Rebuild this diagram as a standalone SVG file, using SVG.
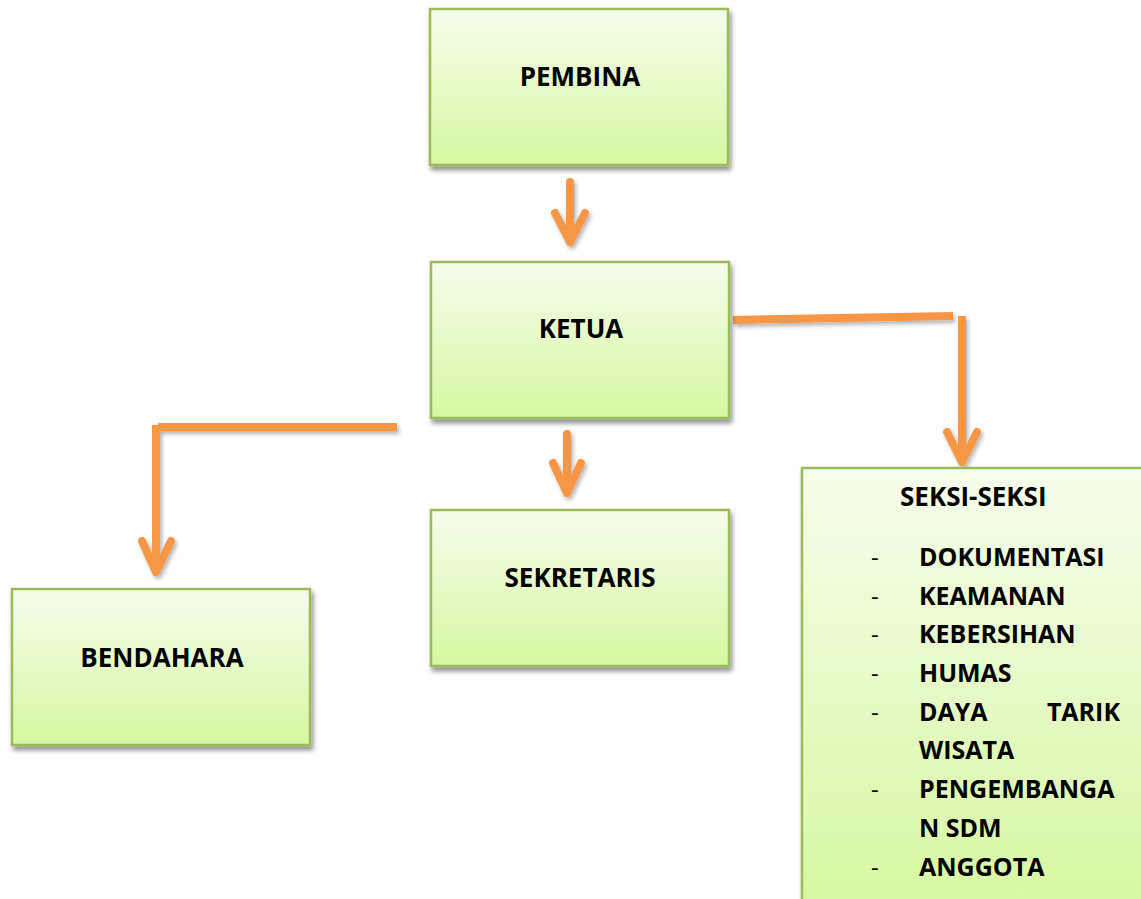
<svg xmlns="http://www.w3.org/2000/svg" width="1141" height="899" viewBox="0 0 1141 899">
  <defs>
    <linearGradient id="boxFill" x1="0" y1="0" x2="0" y2="1">
      <stop offset="0" stop-color="#f5fdec"/>
      <stop offset="1" stop-color="#d7f7a1"/>
    </linearGradient>
    <filter id="boxShadow" x="-10%" y="-10%" width="125%" height="125%">
      <feGaussianBlur in="SourceAlpha" stdDeviation="2.5"/>
      <feOffset dx="2" dy="4" result="b"/>
      <feComponentTransfer><feFuncA type="linear" slope="0.45"/></feComponentTransfer>
      <feMerge><feMergeNode/><feMergeNode in="SourceGraphic"/></feMerge>
    </filter>
    <filter id="lineShadow" filterUnits="userSpaceOnUse" x="0" y="0" width="1141" height="899">
      <feGaussianBlur in="SourceAlpha" stdDeviation="2"/>
      <feOffset dx="2" dy="3" result="b"/>
      <feComponentTransfer><feFuncA type="linear" slope="0.3"/></feComponentTransfer>
      <feMerge><feMergeNode/><feMergeNode in="SourceGraphic"/></feMerge>
    </filter>
  </defs>
  <style>
    .box { fill: url(#boxFill); stroke: #9bbb59; stroke-width: 2.5; filter: url(#boxShadow); }
    .title { font-family: "Open Sans", "Liberation Sans", sans-serif; font-weight: bold; font-size: 26px; fill: #000; }
    .item { font-family: "Open Sans", "Liberation Sans", sans-serif; font-weight: bold; font-size: 25px; fill: #000; }
    .dash { font-family: "Open Sans", "Liberation Sans", sans-serif; font-size: 24px; fill: #000; }
    .conn { fill: none; stroke: #f79646; stroke-width: 8; stroke-linecap: round; stroke-linejoin: round; }
    .bar { fill: none; stroke: #f79646; stroke-width: 8; stroke-linecap: butt; }
  </style>

  <rect width="1141" height="899" fill="#ffffff"/>

  <!-- connectors -->
  <g id="connectors" filter="url(#lineShadow)">
    <!-- PEMBINA to KETUA -->
    <path class="conn" d="M570 182 V242 M555 213 L570 242 L585 213"/>
    <!-- KETUA to SEKRETARIS -->
    <path class="conn" d="M567 434 V493 M553 463 L567 493 L581 463"/>
    <!-- KETUA to SEKSI-SEKSI -->
    <path class="bar" d="M733 320 L953 316"/>
    <path class="bar" d="M962 316 V440"/>
    <path class="conn" d="M962 430 V462 M947 432 L962 462 L977 432"/>
    <!-- KETUA to BENDAHARA -->
    <path class="bar" d="M158 427 H397"/>
    <path class="bar" d="M156 425 V545"/>
    <path class="conn" d="M156 540 V572 M142 541 L156 572 L171 541"/>
  </g>

  <g id="pembina">
    <rect class="box" x="430" y="9" width="298" height="156"/>
    <text class="title" x="580" y="86" text-anchor="middle">PEMBINA</text>
  </g>

  <g id="ketua">
    <rect class="box" x="431" y="262" width="298" height="156"/>
    <text class="title" x="581" y="338" text-anchor="middle">KETUA</text>
  </g>

  <g id="sekretaris">
    <rect class="box" x="431" y="510" width="298" height="156"/>
    <text class="title" x="580" y="587" text-anchor="middle">SEKRETARIS</text>
  </g>

  <g id="bendahara">
    <rect class="box" x="12" y="589" width="298" height="156"/>
    <text class="title" x="162" y="667" text-anchor="middle">BENDAHARA</text>
  </g>

  <g id="seksi">
    <rect class="box" x="802" y="468" width="345" height="440"/>
    <text class="title" x="900" y="506">SEKSI-SEKSI</text>
    <g class="dash">
      <text x="871" y="566">-</text>
      <text x="871" y="605">-</text>
      <text x="871" y="643">-</text>
      <text x="871" y="682">-</text>
      <text x="871" y="721">-</text>
      <text x="871" y="798">-</text>
      <text x="871" y="876">-</text>
    </g>
    <g class="item">
      <text x="919" y="566">DOKUMENTASI</text>
      <text x="919" y="605">KEAMANAN</text>
      <text x="919" y="643">KEBERSIHAN</text>
      <text x="919" y="682">HUMAS</text>
      <text x="919" y="721">DAYA</text>
      <text x="1120" y="721" text-anchor="end">TARIK</text>
      <text x="919" y="759">WISATA</text>
      <text x="919" y="798">PENGEMBANGA</text>
      <text x="919" y="837">N SDM</text>
      <text x="919" y="876">ANGGOTA</text>
    </g>
  </g>
</svg>
